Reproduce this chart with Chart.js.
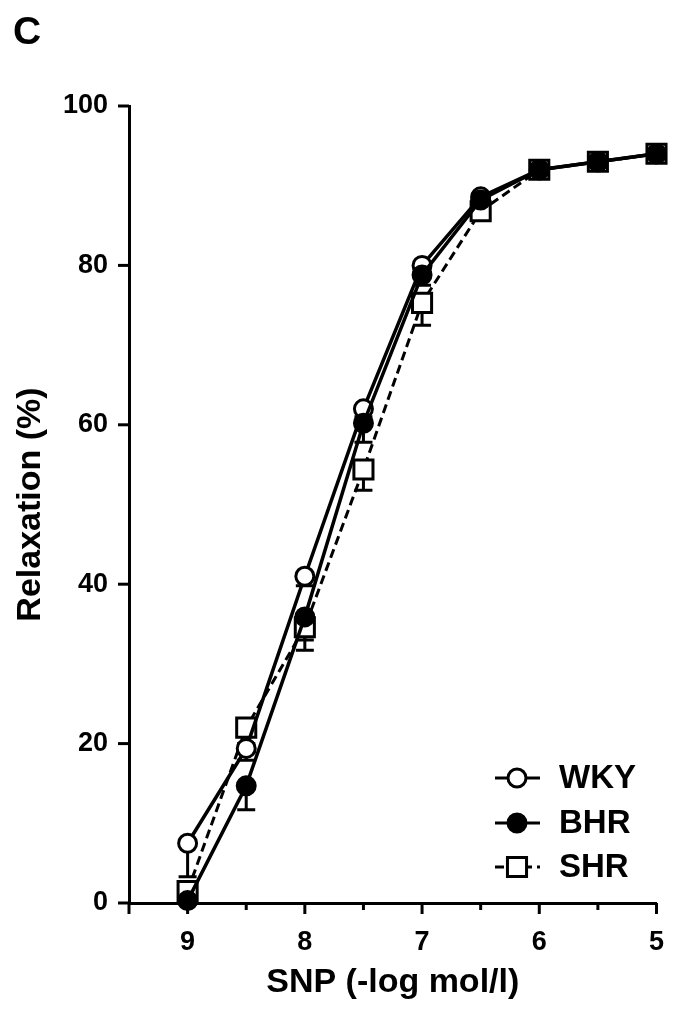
<!DOCTYPE html>
<html>
<head>
<meta charset="utf-8">
<script src="https://cdn.jsdelivr.net/npm/chart.js@4"></script>
<style>
  html, body { margin: 0; padding: 0; background: #fff; }
  #wrap { width: 673px; height: 1012px; }
</style>
</head>
<body>
<div id="wrap"><canvas id="myChart" width="673" height="1012"></canvas></div>
<script>
'use strict';

// SNP dose (-log mol/l)
const doses = [9, 8.5, 8, 7.5, 7, 6.5, 6, 5.5, 5];
// relaxation %, mean
const wky = [7.5, 19.4, 41, 62, 80, 88.6, 92, 93, 94];
const bhr = [0.3, 14.7, 35.9, 60.2, 78.8, 88.2, 92, 93, 94];
const shr = [1.5, 22, 34.6, 54.4, 75.3, 86.8, 92, 93, 94];
// SEM (only the lower bar is drawn, as in the original)
const wkyErr = [4.2, 1.5, 1.2, 1, 0.8, 0.6, 0.5, 0.5, 0.5];
const bhrErr = [0.4, 3, 2.9, 2.4, 1.3, 0.6, 0.5, 0.5, 0.5];
const shrErr = [1.4, 2, 2.9, 2.6, 2.8, 1, 0.5, 0.5, 0.5];
// axis ticks
const xLabels = [9, 8, 7, 6, 5];
const yTicks = [0, 20, 40, 60, 80, 100];

const FONT = '"Liberation Sans", Arial, sans-serif';

const toPoints = (ys) => doses.map((d, i) => ({ x: d, y: ys[i] }));

// error bars (drawn under the markers)
const errorBars = {
  id: 'errorBars',
  beforeDatasetsDraw(chart) {
    const { ctx, scales: { x, y } } = chart;
    ctx.save();
    ctx.strokeStyle = '#000';
    ctx.lineWidth = 3;
    chart.data.datasets.forEach((ds) => {
      ds.data.forEach((p, i) => {
        const e = ds.err[i];
        const px = x.getPixelForValue(p.x);
        const mid = y.getPixelForValue(p.y);
        const bot = y.getPixelForValue(Math.max(0, p.y - e));
        ctx.beginPath();
        ctx.moveTo(px, mid); ctx.lineTo(px, bot);
        ctx.moveTo(px - 9, bot); ctx.lineTo(px + 9, bot);
        ctx.stroke();
      });
    });
    ctx.restore();
  }
};

// tick marks, x tick labels, panel letter, legend
const decorations = {
  id: 'decorations',
  afterDraw(chart) {
    const { ctx, scales: { x, y }, chartArea } = chart;
    ctx.save();
    ctx.strokeStyle = '#000';
    ctx.fillStyle = '#000';
    ctx.lineWidth = 3;
    ctx.lineCap = 'butt';
    // x ticks
    for (let v = 5; v <= 9.5; v += 0.5) {
      const px = x.getPixelForValue(v);
      const len = (Number.isInteger(v) || v === 9.5) ? 11 : 7;
      ctx.beginPath();
      ctx.moveTo(px, chartArea.bottom);
      ctx.lineTo(px, chartArea.bottom + len);
      ctx.stroke();
    }
    // x tick labels
    ctx.font = 'bold 27px ' + FONT;
    ctx.textAlign = 'center';
    ctx.textBaseline = 'middle';
    xLabels.forEach((v) => {
      ctx.fillText(String(v), x.getPixelForValue(v), chartArea.bottom + 40);
    });
    // y ticks
    yTicks.forEach((v) => {
      const py = y.getPixelForValue(v);
      ctx.beginPath();
      ctx.moveTo(chartArea.left - 11, py);
      ctx.lineTo(chartArea.left, py);
      ctx.stroke();
    });

    // panel letter
    ctx.font = 'bold 39px ' + FONT;
    ctx.textAlign = 'left';
    ctx.textBaseline = 'alphabetic';
    ctx.fillText('C', 13, 44);

    // legend
    const rows = [778, 823, 867];
    ['WKY', 'BHR', 'SHR'].forEach((name, i) => {
      const ds = chart.data.datasets.find((d) => d.label === name);
      const cy = rows[i];
      ctx.strokeStyle = '#000';
      ctx.lineWidth = 3;
      ctx.setLineDash(ds.borderDash || []);
      ctx.beginPath();
      ctx.moveTo(495, cy); ctx.lineTo(540, cy);
      ctx.stroke();
      ctx.setLineDash([]);
      ctx.lineWidth = ds.pointBorderWidth;
      ctx.fillStyle = ds.pointBackgroundColor;
      Chart.helpers.drawPoint(ctx, { pointStyle: ds.pointStyle, radius: ds.pointRadius, rotation: 0, borderWidth: ds.pointBorderWidth }, 517, cy);
      ctx.fillStyle = '#000';
      ctx.font = 'bold 33px ' + FONT;
      ctx.textBaseline = 'middle';
      ctx.fillText(ds.label, 559, cy + 1);
    });
    ctx.restore();
  }
};

const ctxDom = document.getElementById('myChart').getContext('2d');

new Chart(ctxDom, {
  type: 'line',
  data: {
    datasets: [
      {
        label: 'WKY',
        data: toPoints(wky),
        err: wkyErr,
        order: 1,
        borderColor: '#000',
        borderWidth: 3.5,
        pointStyle: 'circle',
        pointRadius: 9,
        pointBorderWidth: 3,
        pointBorderColor: '#000',
        pointBackgroundColor: '#fff',
        clip: false
      },
      {
        label: 'BHR',
        data: toPoints(bhr),
        err: bhrErr,
        order: 0,
        borderColor: '#000',
        borderWidth: 3.5,
        pointStyle: 'circle',
        pointRadius: 9,
        pointBorderWidth: 3,
        pointBorderColor: '#000',
        pointBackgroundColor: '#000',
        clip: false
      },
      {
        label: 'SHR',
        data: toPoints(shr),
        err: shrErr,
        order: 2,
        borderColor: '#000',
        borderWidth: 3,
        borderDash: [9, 5],
        pointStyle: 'rect',
        pointRadius: 13.5,
        pointBorderWidth: 3,
        pointBorderColor: '#000',
        pointBackgroundColor: '#fff',
        clip: false
      }
    ]
  },
  options: {
    responsive: false,
    animation: false,
    devicePixelRatio: 1,
    layout: { padding: { left: 0, top: 106, right: 13, bottom: 0 } },
    plugins: {
      legend: { display: false },
      tooltip: { enabled: false }
    },
    scales: {
      x: {
        type: 'linear',
        min: 5,
        max: 9.5,
        reverse: true,
        afterFit: (scale) => { scale.height = 109; },
        ticks: { display: false },
        grid: { display: false },
        border: { display: true, color: '#000', width: 3 },
        title: {
          display: true,
          text: 'SNP (-log mol/l)',
          color: '#000',
          font: { family: FONT, size: 34, weight: 'bold' },
          padding: { top: 0, bottom: 9 }
        }
      },
      y: {
        min: 0,
        max: 100,
        afterFit: (scale) => {
          scale.width = 129;
          scale.paddingTop = 0;
          scale.paddingBottom = 0;
        },
        afterBuildTicks: (scale) => { scale.ticks = yTicks.map((v) => ({ value: v })); },
        ticks: {
          color: '#000',
          font: { family: FONT, size: 27, weight: 'bold' },
          padding: 13,
          callback: (v) => String(v)
        },
        grid: { display: false },
        border: { display: true, color: '#000', width: 3 },
        title: {
          display: true,
          text: 'Relaxation (%)',
          color: '#000',
          font: { family: FONT, size: 34, weight: 'bold' },
          padding: { top: 10, bottom: 0 }
        }
      }
    }
  },
  plugins: [errorBars, decorations]
});
</script>
</body>
</html>
